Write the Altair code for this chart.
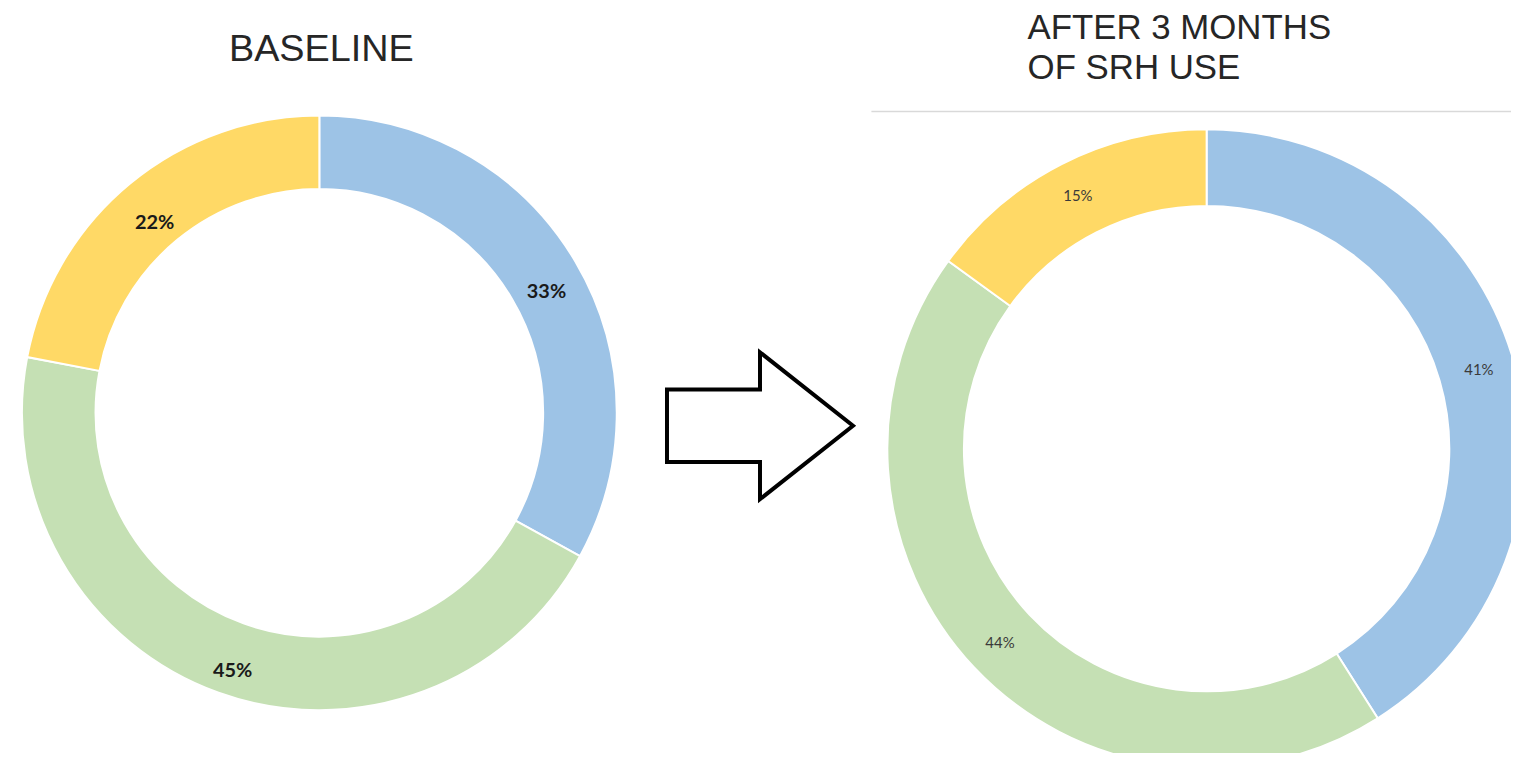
import altair as alt
import pandas as pd

# ---- data ----
categories = ["Blue group", "Green group", "Yellow group"]
order_idx = [0, 1, 2]
baseline_values = [33, 45, 22]
after_values = [41, 44, 15]
baseline_labels = ["33%", "45%", "22%"]
after_labels = ["41%", "44%", "15%"]
colors = ["#9DC3E6", "#C5E0B4", "#FFD966"]

title_left = "BASELINE"
title_right = ["AFTER 3 MONTHS", "OF SRH USE"]

left_df = pd.DataFrame({"cat": categories, "idx": order_idx,
                        "value": baseline_values, "label": baseline_labels})
right_df = pd.DataFrame({"cat": categories, "idx": order_idx,
                         "value": after_values, "label": after_labels})
one = pd.DataFrame({"k": [0]})

color_enc = alt.Color("cat:N", scale=alt.Scale(domain=categories, range=colors), legend=None)
theta_enc = alt.Theta("value:Q", stack=True)
order_enc = alt.Order("idx:Q")

LX, LY = 313, 405
RX, RY = 1205, 441

left_arc = alt.Chart(left_df).mark_arc(
    outerRadius=299, innerRadius=225, stroke="white", strokeWidth=2
).encode(theta=theta_enc, color=color_enc, order=order_enc,
         x=alt.value(LX), y=alt.value(LY))

left_txt = alt.Chart(left_df).mark_text(
    radius=263, font="Lato", fontSize=20, fontWeight="bold", color="#1a1a1a"
).encode(theta=theta_enc, order=order_enc, text="label:N",
         x=alt.value(LX + 2), y=alt.value(LY + 12))

right_arc = alt.Chart(right_df).mark_arc(
    outerRadius=321, innerRadius=244, stroke="white", strokeWidth=2
).encode(theta=theta_enc, color=color_enc, order=order_enc,
         x=alt.value(RX), y=alt.value(RY))

right_txt = alt.Chart(right_df).mark_text(
    radius=285, font="Lato", fontSize=15, color="#3a3a3a"
).encode(theta=theta_enc, order=order_enc, text="label:N",
         x=alt.value(RX), y=alt.value(RY))

t_left = alt.Chart(one).mark_text(
    font="Liberation Sans", fontSize=38, color="#262626", align="center", baseline="alphabetic"
).encode(x=alt.value(315), y=alt.value(51), text=alt.value(title_left))

t_right = alt.Chart(one).mark_text(
    font="Liberation Sans", fontSize=35, color="#262626", align="left", baseline="alphabetic",
    lineHeight=40
).encode(x=alt.value(1025), y=alt.value(29), text=alt.value(title_right))

rule = alt.Chart(one).mark_rule(color="#d9d9d9", strokeWidth=1.5).encode(
    x=alt.value(868), x2=alt.value(1511), y=alt.value(102))

arrow_path = "M-1,-0.39 L0,-0.39 L0,-0.79 L1,0 L0,0.79 L0,0.39 L-1,0.39 Z"
arrow = alt.Chart(one).mark_point(
    shape=arrow_path, size=34969, filled=True, fill="white", fillOpacity=1,
    stroke="black", strokeWidth=4, strokeJoin="miter", opacity=1
).encode(x=alt.value(756), y=alt.value(418))

chart = alt.layer(
    left_arc, right_arc, left_txt, right_txt, t_left, t_right, rule, arrow
).properties(
    width=1511, height=745, padding=0,
    autosize=alt.AutoSizeParams(type="none"),
    background="white"
).configure_view(strokeWidth=0)

chart.save("out.html", embed_options={"renderer": "svg", "actions": False})
